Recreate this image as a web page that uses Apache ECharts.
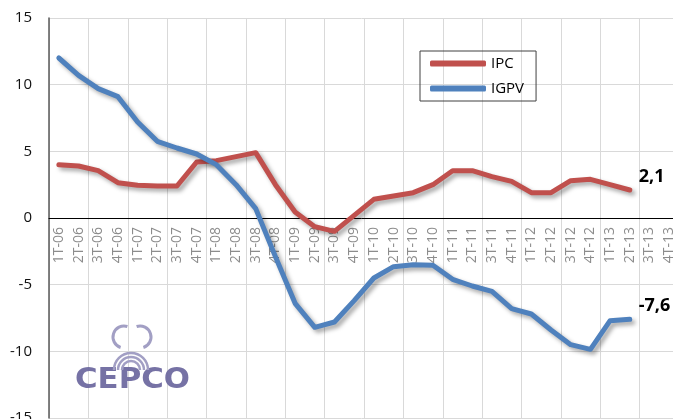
<!DOCTYPE html>
<html>
<head>
<meta charset="utf-8">
<script src="https://cdn.jsdelivr.net/npm/echarts@6/dist/echarts.min.js"></script>
<style>
  html, body { margin: 0; padding: 0; background: #fff; }
  #chart { width: 673px; height: 419px; }
</style>
</head>
<body>
<div id="chart"></div>
<script>
// quarters 2006-2013
var quarters = [
  '1T-06', '2T-06', '3T-06', '4T-06', '1T-07', '2T-07', '3T-07', '4T-07',
  '1T-08', '2T-08', '3T-08', '4T-08', '1T-09', '2T-09', '3T-09', '4T-09',
  '1T-10', '2T-10', '3T-10', '4T-10', '1T-11', '2T-11', '3T-11', '4T-11',
  '1T-12', '2T-12', '3T-12', '4T-12', '1T-13', '2T-13', '3T-13', '4T-13'
];
var ipc = [4.0, 3.9, 3.55, 2.65, 2.45, 2.4, 2.4, 4.2, 4.3, 4.6, 4.9, 2.5,
  0.45, -0.65, -1.0, 0.2, 1.4, 1.65, 1.9, 2.5, 3.55, 3.55, 3.1, 2.75,
  1.9, 1.9, 2.8, 2.9, 2.5, 2.1];
var igpv = [12.0, 10.7, 9.7, 9.1, 7.2, 5.75, 5.25, 4.8, 4.0, 2.5, 0.7, -2.9,
  -6.4, -8.2, -7.8, -6.2, -4.5, -3.65, -3.5, -3.55, -4.6, -5.1, -5.5, -6.8,
  -7.2, -8.4, -9.5, -9.85, -7.7, -7.6];
var yTicks = { min: -15, max: 15, step: 5 };

var chart = echarts.init(document.getElementById('chart'));

var shadow = {
  shadowColor: 'rgba(0,0,0,0.35)',
  shadowBlur: 4,
  shadowOffsetX: 3,
  shadowOffsetY: 3
};

function comma(p) {
  return String(p.value).replace('.', ',');
}

function serie(name, data, color) {
  return {
    name: name,
    type: 'line',
    data: data,
    symbol: 'none',
    smooth: false,
    lineStyle: Object.assign({ color: color, width: 5, cap: 'round', join: 'round' }, shadow),
    itemStyle: { color: color },
    endLabel: {
      show: true,
      formatter: comma,
      distance: 5,
      offset: [4, -13],
      fontFamily: 'Open Sans',
      fontWeight: 'bold',
      fontSize: 18,
      color: '#000'
    },
    z: 3
  };
}

// logo watermark (decorative)
var logo = [
  { type: 'text', left: 75, top: 367, z: 1, scaleX: 1.1,
    style: { text: 'CEPCO', fontFamily: 'DejaVu Sans', fontWeight: 'bold', fontSize: 28,
      fill: '#6f6aa0', opacity: 0.95 } }
];
[9, 13, 17].forEach(function (r) {
  logo.push({ type: 'arc', z: 1, shape: { cx: 131, cy: 370, r: r, startAngle: Math.PI, endAngle: 2 * Math.PI },
    style: { stroke: '#a29fc4', lineWidth: 2.5, fill: null } });
});
logo.push({ type: 'arc', z: 1, shape: { cx: 124, cy: 337, r: 11, startAngle: Math.PI * 0.6, endAngle: Math.PI * 1.6 },
  style: { stroke: '#a29fc4', lineWidth: 3, fill: null } });
logo.push({ type: 'arc', z: 1, shape: { cx: 140, cy: 337, r: 11, startAngle: -Math.PI * 0.6, endAngle: Math.PI * 0.4 },
  style: { stroke: '#a29fc4', lineWidth: 3, fill: null } });

chart.setOption({
  animation: false,
  textStyle: { fontFamily: 'Open Sans' },
  grid: [
    { left: 49, right: -6, top: 18, bottom: 1, containLabel: false, outerBoundsMode: 'none' },
    // upper half only, so the quarter labels hang just under the zero line
    { left: 49, right: -6, top: 18, height: 200, containLabel: false, outerBoundsMode: 'none' }
  ],
  legend: {
    left: 420,
    top: 51,
    orient: 'vertical',
    icon: 'roundRect',
    itemWidth: 56,
    itemHeight: 6,
    itemGap: 10,
    padding: [5, 12, 5, 10],
    borderColor: '#404040',
    borderWidth: 1,
    textStyle: { fontSize: 15, color: '#000', fontFamily: 'Open Sans' },
    data: ['IPC', 'IGPV']
  },
  xAxis: [{
    type: 'category',
    data: quarters,
    boundaryGap: true,
    axisLine: { onZero: true, lineStyle: { color: '#000', width: 1 } },
    axisTick: { show: false },
    axisLabel: { show: false },
    splitLine: { show: true, interval: 1, lineStyle: { color: '#d9d9d9', width: 1 } }
  }, {
    type: 'category',
    gridIndex: 1,
    data: quarters,
    boundaryGap: true,
    axisLine: { show: false },
    axisTick: { show: false },
    axisLabel: { rotate: 90, interval: 0, margin: 9, fontSize: 14, color: '#8c8c8c', fontFamily: 'Open Sans' },
    splitLine: { show: false }
  }],
  yAxis: [{
    type: 'value',
    min: yTicks.min,
    max: yTicks.max,
    interval: yTicks.step,
    axisLine: { show: true, lineStyle: { color: '#595959', width: 1.5 } },
    axisTick: { show: false },
    axisLabel: { fontSize: 15, color: '#111', margin: 17 },
    splitLine: { lineStyle: { color: '#d9d9d9', width: 1 } }
  }, {
    type: 'value',
    gridIndex: 1,
    show: false
  }],
  graphic: logo,
  series: [
    serie('IPC', ipc, '#c0504d'),
    serie('IGPV', igpv, '#4f81bd')
  ]
});
</script>
</body>
</html>
